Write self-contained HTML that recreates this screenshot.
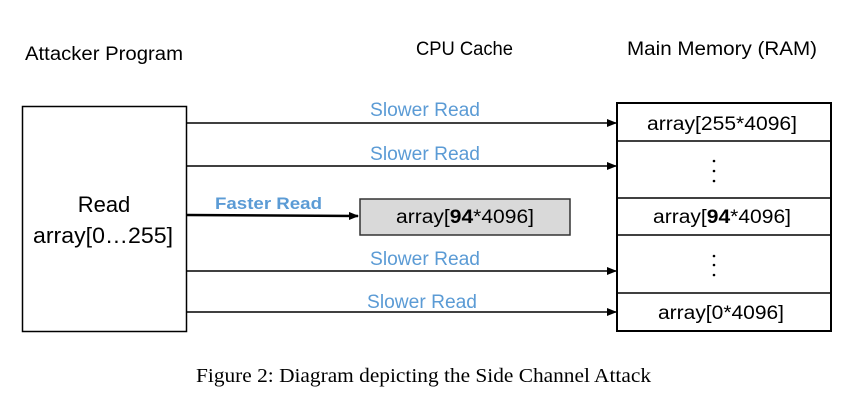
<!DOCTYPE html>
<html><head><style>
body{margin:0;width:865px;height:404px;background:#fff;overflow:hidden}
svg text{font-family:"Liberation Sans",sans-serif}
</style></head><body>
<svg width="865" height="404" viewBox="0 0 865 404">
<defs><marker id="a" markerWidth="10" markerHeight="8" refX="9" refY="4" orient="auto" markerUnits="userSpaceOnUse"><path d="M0,0L10,4L0,8z" fill="#000"/></marker></defs>
<text x="25" y="60" font-size="19" textLength="158" lengthAdjust="spacingAndGlyphs">Attacker Program</text>
<text x="416" y="55" font-size="19" textLength="97" lengthAdjust="spacingAndGlyphs">CPU Cache</text>
<text x="627" y="55" font-size="19" textLength="190" lengthAdjust="spacingAndGlyphs">Main Memory (RAM)</text>
<rect x="22.5" y="106.5" width="164" height="225" fill="#fff" stroke="#000" stroke-width="1.5"/>
<text x="104" y="212" font-size="22" text-anchor="middle">Read</text>
<text x="33" y="243" font-size="22" textLength="140" lengthAdjust="spacingAndGlyphs">array[0…255]</text>
<rect x="617" y="103" width="214" height="228" fill="#fff" stroke="#000" stroke-width="2"/>
<g stroke="#000" stroke-width="1.5"><line x1="617" y1="141" x2="831" y2="141"/><line x1="617" y1="198" x2="831" y2="198"/><line x1="617" y1="235" x2="831" y2="235"/><line x1="617" y1="293" x2="831" y2="293"/></g>
<g font-size="19" lengthAdjust="spacingAndGlyphs">
<text x="647" y="130" textLength="150" lengthAdjust="spacingAndGlyphs">array[255*4096]</text>
<text x="653" y="223" textLength="138" lengthAdjust="spacingAndGlyphs">array[<tspan font-weight="bold">94</tspan>*4096]</text>
<text x="658" y="319" textLength="126" lengthAdjust="spacingAndGlyphs">array[0*4096]</text>
</g>
<g fill="#000"><circle cx="714" cy="161" r="1.3"/><circle cx="714" cy="171" r="1.3"/><circle cx="714" cy="181" r="1.3"/><circle cx="714" cy="256" r="1.3"/><circle cx="714" cy="265" r="1.3"/><circle cx="714" cy="275" r="1.3"/></g>
<rect x="360" y="199" width="210" height="36" fill="#d9d9d9" stroke="#333" stroke-width="1.5"/>
<text x="396" y="223" font-size="19" textLength="138" lengthAdjust="spacingAndGlyphs">array[<tspan font-weight="bold">94</tspan>*4096]</text>
<g stroke="#000" stroke-width="1.5" marker-end="url(#a)">
<line x1="187" y1="123" x2="616" y2="123"/><line x1="187" y1="166" x2="616" y2="166"/><line x1="187" y1="271" x2="616" y2="271"/><line x1="187" y1="312" x2="616" y2="312"/>
</g>
<line x1="187" y1="215" x2="358" y2="216" stroke="#000" stroke-width="2.5" marker-end="url(#a)"/>
<g font-size="19" fill="#5b9bd5">
<text x="370" y="116" textLength="110" lengthAdjust="spacingAndGlyphs">Slower Read</text>
<text x="370" y="160" textLength="110" lengthAdjust="spacingAndGlyphs">Slower Read</text>
<text x="370" y="265" textLength="110" lengthAdjust="spacingAndGlyphs">Slower Read</text>
<text x="367" y="308" textLength="110" lengthAdjust="spacingAndGlyphs">Slower Read</text>
<text x="215" y="209" font-weight="bold" font-size="17" textLength="107" lengthAdjust="spacingAndGlyphs">Faster Read</text>
</g>
<text x="196" y="382" font-size="20" textLength="455" lengthAdjust="spacingAndGlyphs" style="font-family:'Liberation Serif',serif">Figure 2: Diagram depicting the Side Channel Attack</text>
</svg>
</body></html>
